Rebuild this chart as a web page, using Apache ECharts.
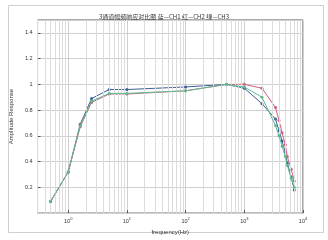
<!DOCTYPE html>
<html><head><meta charset="utf-8">
<script src="https://cdn.jsdelivr.net/npm/echarts@6/dist/echarts.min.js"></script>
<style>html,body{margin:0;padding:0;background:#fff}#c{width:328px;height:240px}</style>
</head><body><div id="c"></div>
<script>
var freqs = [0.5, 1, 1.6, 2.5, 5, 10, 100, 500, 1000, 2000, 3400, 3900, 4400, 5000, 5400, 6300, 7100];
var ch1 = [0.09, 0.32, 0.69, 0.89, 0.96, 0.96, 0.98, 1.0, 0.97, 0.85, 0.73, 0.64, 0.56, 0.47, 0.39, 0.28, 0.18];
var ch2 = [0.09, 0.32, 0.67, 0.86, 0.925, 0.925, 0.95, 1.0, 1.0, 0.97, 0.82, 0.72, 0.625, 0.53, 0.44, 0.34, 0.25];
var ch3 = [0.09, 0.32, 0.68, 0.87, 0.93, 0.93, 0.95, 1.0, 0.98, 0.9, 0.68, 0.6, 0.52, 0.44, 0.37, 0.27, 0.2];
var seriesNames = ['CH1', 'CH2', 'CH3'];
var seriesColors = ['#3f5f95', '#d0607e', '#5fba90'];
var yTicks = [0.2, 0.4, 0.6, 0.8, 1, 1.2, 1.4];
var titleText = '3通道幅频响应对比图 蓝—CH1 红—CH2 绿—CH3';

function pairs(vals){ return freqs.map(function(f,i){ return [f, vals[i]]; }); }
var minorX = [];
for (var k = -1; k <= 3; k++) for (var m = 2; m <= 9; m++) { var v = m * Math.pow(10, k); if (v > 0.25 && v < 10000) minorX.push({xAxis: v}); }

var chart = echarts.init(document.getElementById('c'), null, {renderer: 'canvas'});
var font = 'Liberation Sans, Arial, sans-serif';
var data = [ch1, ch2, ch3];
var series = data.map(function(d, i){
  return {name: seriesNames[i], type: 'line', data: pairs(d), symbol: 'circle', symbolSize: 3,
    lineStyle: {width: 1, color: seriesColors[i]}, itemStyle: {color: seriesColors[i]}, z: 3 + i, animation: false};
});
series.unshift({type: 'line', data: [], silent: true, animation: false,
  markLine: {silent: true, symbol: ['none', 'none'], label: {show: false}, animation: false,
    lineStyle: {color: '#dcdcdc', width: 1, type: 'solid'}, data: minorX}});
chart.setOption({
  backgroundColor: '#fff',
  animation: false,
  title: {text: titleText, left: 'center', top: 9, textStyle: {fontSize: 6, fontWeight: 'normal', color: '#333', fontFamily: 'Noto Sans CJK SC'}},
  graphic: [{type: 'rect', shape: {x: 8.5, y: 5.5, width: 315, height: 227}, style: {fill: 'none', stroke: '#cfcfcf', lineWidth: 1}, silent: true, z: -1}],
  grid: {left: 30, right: 25, top: 20, bottom: 26, show: true, borderColor: '#555', borderWidth: 1},
  xAxis: {type: 'log', logBase: 10, min: 0.3, max: 10000,
    name: 'frequency(Hz)', nameLocation: 'middle', nameGap: 13,
    nameTextStyle: {fontSize: 6, color: '#333', fontFamily: font},
    axisLine: {show: false}, axisTick: {show: true, inside: true, length: 3, lineStyle: {color: '#555'}},
    splitLine: {show: true, lineStyle: {color: '#cfcfcf', width: 1}},
    axisLabel: {showMinLabel: false, margin: 4, fontSize: 5, color: '#333', fontFamily: font,
      formatter: function(v){ var e = Math.round(Math.log(v) / Math.LN10); return '{b|10}{s|' + e + '}'; },
      rich: {b: {fontSize: 5.5, color: '#333', fontFamily: font}, s: {fontSize: 4, color: '#333', verticalAlign: 'top', padding: [0, 0, 4, 0], fontFamily: font}}}},
  yAxis: {type: 'value', min: 0, max: 1.5, interval: 0.2,
    name: 'Amplitude Response', nameLocation: 'middle', nameGap: 15, nameRotate: 90,
    nameTextStyle: {fontSize: 6, color: '#333', fontFamily: font},
    axisLine: {show: false}, axisTick: {show: true, inside: true, length: 3, lineStyle: {color: '#555'}},
    splitLine: {show: true, lineStyle: {color: '#cfcfcf', width: 1}},
    axisLabel: {showMinLabel: false, showMaxLabel: false, margin: 5, fontSize: 5.5, color: '#333', fontFamily: font,
      formatter: function(v){ return yTicks.indexOf(Math.round(v * 10) / 10) >= 0 ? String(Math.round(v * 10) / 10) : ''; }}},
  series: series
});
</script></body></html>
